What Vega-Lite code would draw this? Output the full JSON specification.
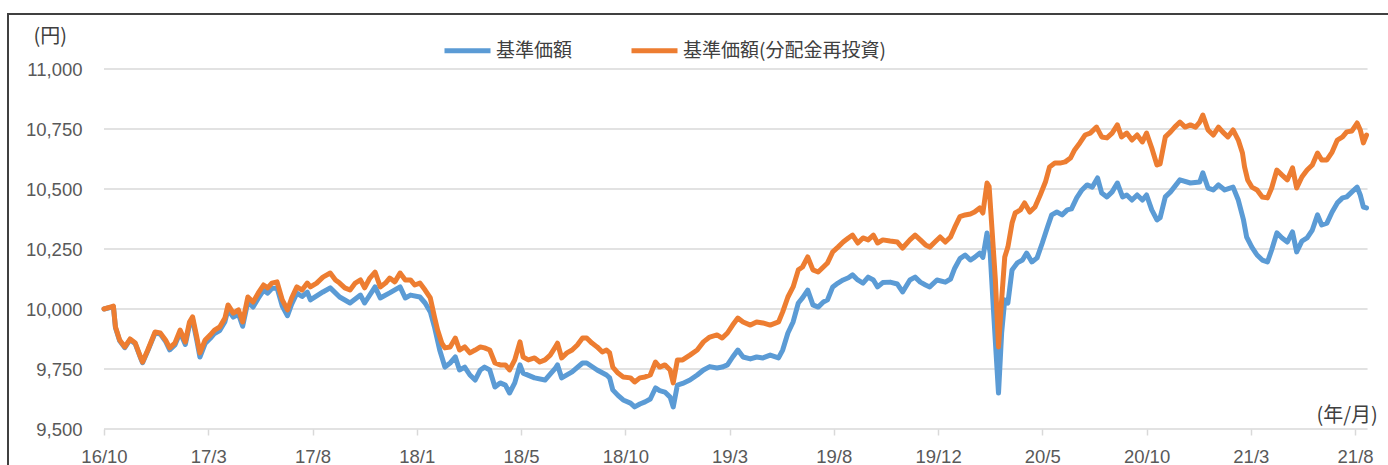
{
  "$schema": "https://vega.github.io/schema/vega-lite/v6.json",
  "width": 1380,
  "height": 451,
  "autosize": {"type": "none"},
  "padding": {"left": 8, "top": 14, "right": 0, "bottom": 0},
  "config": {
    "view": {"stroke": "#404040", "strokeWidth": 2, "strokeDash": [1380, 1831, 451]},
    "axis": {"labelFont": "Liberation Sans", "labelFontSize": 18.5, "labelColor": "#595959", "titleFont": "Noto Sans CJK JP", "titleFontSize": 18, "titleFontWeight": "normal", "titleColor": "#404040"}
  },
  "datasets": {
    "grid": [{"g": 9500}, {"g": 9750}, {"g": 10000}, {"g": 10250}, {"g": 10500}, {"g": 10750}, {"g": 11000}],
    "base": [
      {"i":0,"v":10000},{"i":6,"v":10006},{"i":9,"v":10010},{"i":11,"v":9922},{"i":15,"v":9868},{"i":20,"v":9839},{"i":25,"v":9872},{"i":30,"v":9855},{"i":35,"v":9797},{"i":37,"v":9776},{"i":42,"v":9826},{"i":49,"v":9900},{"i":54,"v":9896},{"i":59,"v":9866},{"i":63,"v":9830},{"i":68,"v":9850},{"i":73,"v":9902},{"i":78,"v":9852},{"i":82,"v":9934},{"i":85,"v":9955},{"i":89,"v":9870},{"i":92,"v":9800},{"i":97,"v":9856},{"i":102,"v":9878},{"i":106,"v":9898},{"i":111,"v":9910},{"i":116,"v":9947},{"i":119,"v":9998},{"i":124,"v":9966},{"i":129,"v":9978},{"i":133,"v":9928},{"i":138,"v":10030},{"i":143,"v":10008},{"i":148,"v":10045},{"i":153,"v":10078},{"i":157,"v":10066},{"i":161,"v":10085},{"i":166,"v":10088},{"i":171,"v":10012},{"i":176,"v":9972},{"i":180,"v":10020},{"i":185,"v":10066},{"i":190,"v":10052},{"i":195,"v":10070},{"i":198,"v":10038},{"i":210,"v":10071},{"i":217,"v":10088},{"i":226,"v":10050},{"i":236,"v":10025},{"i":246,"v":10058},{"i":250,"v":10025},{"i":260,"v":10092},{"i":265,"v":10046},{"i":274,"v":10067},{"i":284,"v":10092},{"i":289,"v":10046},{"i":294,"v":10058},{"i":303,"v":10050},{"i":308,"v":10025},{"i":313,"v":9988},{"i":317,"v":9925},{"i":322,"v":9829},{"i":327,"v":9758},{"i":332,"v":9775},{"i":337,"v":9800},{"i":341,"v":9746},{"i":346,"v":9758},{"i":351,"v":9725},{"i":356,"v":9704},{"i":361,"v":9746},{"i":365,"v":9758},{"i":370,"v":9746},{"i":375,"v":9675},{"i":380,"v":9692},{"i":385,"v":9683},{"i":389,"v":9650},{"i":394,"v":9692},{"i":399,"v":9767},{"i":402,"v":9733},{"i":413,"v":9713},{"i":423,"v":9704},{"i":433,"v":9754},{"i":435,"v":9767},{"i":439,"v":9713},{"i":449,"v":9738},{"i":459,"v":9775},{"i":463,"v":9775},{"i":473,"v":9746},{"i":482,"v":9725},{"i":485,"v":9713},{"i":488,"v":9663},{"i":493,"v":9640},{"i":498,"v":9621},{"i":505,"v":9608},{"i":509,"v":9592},{"i":514,"v":9604},{"i":519,"v":9613},{"i":524,"v":9625},{"i":529,"v":9671},{"i":533,"v":9660},{"i":538,"v":9654},{"i":543,"v":9633},{"i":546,"v":9592},{"i":550,"v":9683},{"i":555,"v":9690},{"i":562,"v":9704},{"i":569,"v":9725},{"i":575,"v":9746},{"i":581,"v":9760},{"i":588,"v":9754},{"i":593,"v":9758},{"i":598,"v":9767},{"i":603,"v":9800},{"i":608,"v":9829},{"i":613,"v":9800},{"i":620,"v":9792},{"i":626,"v":9800},{"i":632,"v":9796},{"i":639,"v":9808},{"i":647,"v":9796},{"i":651,"v":9829},{"i":656,"v":9900},{"i":661,"v":9946},{"i":666,"v":10025},{"i":670,"v":10046},{"i":675,"v":10079},{"i":680,"v":10017},{"i":685,"v":10008},{"i":690,"v":10029},{"i":694,"v":10038},{"i":699,"v":10092},{"i":704,"v":10108},{"i":709,"v":10121},{"i":714,"v":10130},{"i":718,"v":10142},{"i":723,"v":10121},{"i":728,"v":10108},{"i":733,"v":10133},{"i":738,"v":10121},{"i":742,"v":10092},{"i":747,"v":10110},{"i":754,"v":10112},{"i":761,"v":10104},{"i":766,"v":10071},{"i":773,"v":10121},{"i":778,"v":10133},{"i":783,"v":10112},{"i":788,"v":10100},{"i":792,"v":10092},{"i":799,"v":10121},{"i":807,"v":10112},{"i":812,"v":10125},{"i":816,"v":10170},{"i":821,"v":10210},{"i":826,"v":10225},{"i":831,"v":10204},{"i":835,"v":10215},{"i":840,"v":10233},{"i":843,"v":10215},{"i":847,"v":10317},{"i":850,"v":10233},{"i":853,"v":10008},{"i":858,"v":9650},{"i":861,"v":9900},{"i":864,"v":10038},{"i":867,"v":10025},{"i":871,"v":10163},{"i":876,"v":10192},{"i":881,"v":10204},{"i":885,"v":10233},{"i":890,"v":10196},{"i":895,"v":10213},{"i":900,"v":10275},{"i":905,"v":10342},{"i":909,"v":10392},{"i":914,"v":10404},{"i":919,"v":10392},{"i":924,"v":10413},{"i":928,"v":10417},{"i":933,"v":10463},{"i":938,"v":10496},{"i":943,"v":10517},{"i":948,"v":10508},{"i":953,"v":10546},{"i":957,"v":10483},{"i":962,"v":10467},{"i":967,"v":10488},{"i":972,"v":10525},{"i":977,"v":10467},{"i":981,"v":10475},{"i":986,"v":10454},{"i":991,"v":10475},{"i":996,"v":10454},{"i":1000,"v":10475},{"i":1005,"v":10413},{"i":1010,"v":10371},{"i":1013,"v":10380},{"i":1018,"v":10467},{"i":1023,"v":10488},{"i":1032,"v":10538},{"i":1042,"v":10525},{"i":1051,"v":10529},{"i":1054,"v":10567},{"i":1059,"v":10504},{"i":1064,"v":10496},{"i":1069,"v":10517},{"i":1075,"v":10496},{"i":1083,"v":10508},{"i":1088,"v":10454},{"i":1093,"v":10371},{"i":1096,"v":10300},{"i":1101,"v":10258},{"i":1106,"v":10225},{"i":1111,"v":10204},{"i":1116,"v":10196},{"i":1120,"v":10246},{"i":1125,"v":10317},{"i":1130,"v":10296},{"i":1135,"v":10279},{"i":1140,"v":10321},{"i":1144,"v":10238},{"i":1149,"v":10283},{"i":1154,"v":10296},{"i":1159,"v":10329},{"i":1164,"v":10392},{"i":1168,"v":10350},{"i":1173,"v":10358},{"i":1178,"v":10404},{"i":1183,"v":10442},{"i":1188,"v":10463},{"i":1192,"v":10467},{"i":1197,"v":10488},{"i":1202,"v":10508},{"i":1205,"v":10475},{"i":1208,"v":10425},{"i":1211,"v":10421}
    ],
    "reinv": [
      {"i":0,"v":10000},{"i":6,"v":10008},{"i":9,"v":10012},{"i":11,"v":9925},{"i":15,"v":9871},{"i":20,"v":9842},{"i":25,"v":9875},{"i":30,"v":9858},{"i":35,"v":9800},{"i":37,"v":9779},{"i":42,"v":9829},{"i":49,"v":9904},{"i":54,"v":9900},{"i":59,"v":9871},{"i":63,"v":9838},{"i":68,"v":9858},{"i":73,"v":9912},{"i":78,"v":9863},{"i":82,"v":9946},{"i":85,"v":9967},{"i":89,"v":9883},{"i":92,"v":9817},{"i":97,"v":9871},{"i":102,"v":9892},{"i":106,"v":9912},{"i":111,"v":9925},{"i":116,"v":9962},{"i":119,"v":10017},{"i":124,"v":9983},{"i":129,"v":9996},{"i":133,"v":9946},{"i":138,"v":10050},{"i":143,"v":10029},{"i":148,"v":10067},{"i":153,"v":10100},{"i":157,"v":10088},{"i":161,"v":10108},{"i":166,"v":10113},{"i":171,"v":10038},{"i":176,"v":9996},{"i":180,"v":10046},{"i":185,"v":10092},{"i":190,"v":10079},{"i":195,"v":10108},{"i":198,"v":10092},{"i":204,"v":10108},{"i":210,"v":10133},{"i":217,"v":10150},{"i":222,"v":10121},{"i":226,"v":10108},{"i":231,"v":10088},{"i":236,"v":10079},{"i":241,"v":10108},{"i":246,"v":10121},{"i":250,"v":10088},{"i":255,"v":10129},{"i":260,"v":10154},{"i":265,"v":10092},{"i":270,"v":10108},{"i":274,"v":10129},{"i":279,"v":10113},{"i":284,"v":10150},{"i":289,"v":10121},{"i":294,"v":10121},{"i":298,"v":10100},{"i":303,"v":10108},{"i":308,"v":10079},{"i":313,"v":10046},{"i":317,"v":9967},{"i":320,"v":9912},{"i":324,"v":9858},{"i":327,"v":9838},{"i":332,"v":9842},{"i":337,"v":9879},{"i":341,"v":9829},{"i":346,"v":9842},{"i":351,"v":9817},{"i":356,"v":9829},{"i":361,"v":9842},{"i":365,"v":9838},{"i":370,"v":9829},{"i":375,"v":9775},{"i":380,"v":9767},{"i":385,"v":9767},{"i":389,"v":9746},{"i":394,"v":9788},{"i":399,"v":9863},{"i":402,"v":9800},{"i":407,"v":9788},{"i":413,"v":9796},{"i":418,"v":9779},{"i":423,"v":9788},{"i":428,"v":9808},{"i":433,"v":9842},{"i":435,"v":9858},{"i":439,"v":9796},{"i":444,"v":9817},{"i":449,"v":9829},{"i":454,"v":9850},{"i":459,"v":9879},{"i":463,"v":9879},{"i":468,"v":9858},{"i":473,"v":9842},{"i":478,"v":9821},{"i":482,"v":9829},{"i":485,"v":9817},{"i":488,"v":9758},{"i":493,"v":9733},{"i":498,"v":9717},{"i":505,"v":9713},{"i":509,"v":9696},{"i":514,"v":9713},{"i":519,"v":9717},{"i":524,"v":9725},{"i":529,"v":9779},{"i":533,"v":9758},{"i":538,"v":9767},{"i":543,"v":9746},{"i":546,"v":9692},{"i":550,"v":9788},{"i":555,"v":9788},{"i":562,"v":9808},{"i":569,"v":9829},{"i":575,"v":9863},{"i":581,"v":9883},{"i":588,"v":9892},{"i":593,"v":9879},{"i":598,"v":9900},{"i":603,"v":9933},{"i":608,"v":9962},{"i":613,"v":9946},{"i":620,"v":9933},{"i":626,"v":9946},{"i":632,"v":9942},{"i":639,"v":9933},{"i":647,"v":9946},{"i":651,"v":9988},{"i":656,"v":10050},{"i":661,"v":10092},{"i":666,"v":10163},{"i":670,"v":10175},{"i":675,"v":10217},{"i":680,"v":10163},{"i":685,"v":10154},{"i":690,"v":10175},{"i":694,"v":10192},{"i":699,"v":10238},{"i":704,"v":10258},{"i":709,"v":10279},{"i":714,"v":10296},{"i":718,"v":10308},{"i":723,"v":10275},{"i":728,"v":10296},{"i":733,"v":10288},{"i":738,"v":10308},{"i":742,"v":10275},{"i":747,"v":10288},{"i":754,"v":10283},{"i":761,"v":10279},{"i":766,"v":10254},{"i":773,"v":10288},{"i":778,"v":10308},{"i":783,"v":10288},{"i":788,"v":10267},{"i":792,"v":10258},{"i":797,"v":10279},{"i":802,"v":10300},{"i":807,"v":10279},{"i":812,"v":10300},{"i":816,"v":10340},{"i":821,"v":10385},{"i":826,"v":10392},{"i":831,"v":10396},{"i":835,"v":10404},{"i":840,"v":10421},{"i":843,"v":10400},{"i":847,"v":10525},{"i":849,"v":10510},{"i":852,"v":10317},{"i":855,"v":10121},{"i":858,"v":9842},{"i":861,"v":10038},{"i":864,"v":10217},{"i":867,"v":10258},{"i":871,"v":10358},{"i":874,"v":10400},{"i":879,"v":10413},{"i":883,"v":10442},{"i":888,"v":10404},{"i":893,"v":10425},{"i":898,"v":10475},{"i":903,"v":10529},{"i":907,"v":10592},{"i":912,"v":10608},{"i":917,"v":10608},{"i":922,"v":10613},{"i":927,"v":10629},{"i":931,"v":10663},{"i":936,"v":10692},{"i":941,"v":10725},{"i":946,"v":10733},{"i":952,"v":10758},{"i":957,"v":10717},{"i":962,"v":10713},{"i":967,"v":10733},{"i":972,"v":10767},{"i":976,"v":10717},{"i":981,"v":10733},{"i":986,"v":10704},{"i":991,"v":10725},{"i":996,"v":10696},{"i":1000,"v":10733},{"i":1005,"v":10671},{"i":1010,"v":10600},{"i":1013,"v":10605},{"i":1018,"v":10717},{"i":1023,"v":10738},{"i":1027,"v":10758},{"i":1032,"v":10779},{"i":1037,"v":10758},{"i":1042,"v":10767},{"i":1047,"v":10758},{"i":1051,"v":10779},{"i":1054,"v":10808},{"i":1059,"v":10746},{"i":1064,"v":10725},{"i":1069,"v":10758},{"i":1073,"v":10738},{"i":1078,"v":10717},{"i":1083,"v":10746},{"i":1088,"v":10704},{"i":1092,"v":10650},{"i":1094,"v":10592},{"i":1097,"v":10538},{"i":1101,"v":10508},{"i":1106,"v":10496},{"i":1111,"v":10467},{"i":1116,"v":10463},{"i":1120,"v":10504},{"i":1125,"v":10579},{"i":1130,"v":10558},{"i":1135,"v":10538},{"i":1140,"v":10588},{"i":1144,"v":10504},{"i":1149,"v":10550},{"i":1154,"v":10579},{"i":1159,"v":10600},{"i":1164,"v":10650},{"i":1168,"v":10621},{"i":1173,"v":10621},{"i":1178,"v":10654},{"i":1183,"v":10704},{"i":1188,"v":10717},{"i":1192,"v":10738},{"i":1197,"v":10742},{"i":1202,"v":10775},{"i":1205,"v":10746},{"i":1208,"v":10692},{"i":1211,"v":10725}
    ]
  },
  "layer": [
    {
      "data": {"name": "grid"},
      "mark": {"type": "rule", "color": "#d9d9d9", "strokeWidth": 1.5},
      "encoding": {
        "y": {"field": "g", "type": "quantitative", "scale": {"domain": [9350, 11229.17], "nice": false, "zero": false}},
        "x": {"datum": 0, "type": "quantitative", "scale": {"domain": [-92.08, 1231.6], "nice": false, "zero": false}},
        "x2": {"datum": 1212}
      }
    },
    {
      "data": {"name": "base"},
      "mark": {"type": "line", "strokeWidth": 5, "strokeJoin": "round", "strokeCap": "round"},
      "encoding": {
        "x": {
          "field": "i", "type": "quantitative",
          "scale": {"domain": [-92.08, 1231.6], "nice": false, "zero": false},
          "axis": {
            "orient": "bottom", "offset": -36,
            "values": [0, 100, 200, 300, 400, 500, 600, 700, 800, 900, 1000, 1100, 1200],
            "labelExpr": "['16/10','17/3','17/8','18/1','18/5','18/10','19/3','19/8','19/12','20/5','20/10','21/3','21/8'][round(datum.value/100)]",
            "domain": false, "grid": false, "ticks": true, "tickColor": "#d9d9d9", "tickSize": 6, "tickWidth": 1.5,
            "labelPadding": 12, "labelFlush": false, "labelOverlap": false,
            "title": "(年/月)", "titleX": 1308, "titleY": -14, "titleAlign": "left", "titleBaseline": "middle", "titleFontSize": 20
          }
        },
        "y": {
          "field": "v", "type": "quantitative",
          "scale": {"domain": [9350, 11229.17], "nice": false, "zero": false},
          "axis": {
            "orient": "left", "offset": -96,
            "values": [9500, 9750, 10000, 10250, 10500, 10750, 11000], "format": ",d",
            "domain": false, "ticks": false, "grid": false, "labelPadding": 22,
            "title": "(円)", "titleAngle": 0, "titleX": -71, "titleY": 22, "titleAlign": "left", "titleBaseline": "middle", "titleFontSize": 20
          }
        },
        "color": {
          "datum": "基準価額", "type": "nominal",
          "scale": {"domain": ["基準価額", "基準価額(分配金再投資)"], "range": ["#5B9BD5", "#ED7D31"]},
          "legend": {
            "orient": "none", "legendX": 434, "legendY": 11, "direction": "horizontal", "title": null,
            "symbolType": "stroke", "symbolStrokeWidth": 5, "symbolSize": 2116,
            "labelFont": "Noto Sans CJK JP", "labelFontSize": 19, "labelColor": "#404040",
            "labelOffset": 3, "columnPadding": 48, "labelLimit": 400, "padding": 0
          }
        }
      }
    },
    {
      "data": {"name": "reinv"},
      "mark": {"type": "line", "strokeWidth": 5, "strokeJoin": "round", "strokeCap": "round"},
      "encoding": {
        "x": {"field": "i", "type": "quantitative", "scale": {"domain": [-92.08, 1231.6], "nice": false, "zero": false}},
        "y": {"field": "v", "type": "quantitative", "scale": {"domain": [9350, 11229.17], "nice": false, "zero": false}},
        "color": {"datum": "基準価額(分配金再投資)", "type": "nominal"}
      }
    }
  ]
}
